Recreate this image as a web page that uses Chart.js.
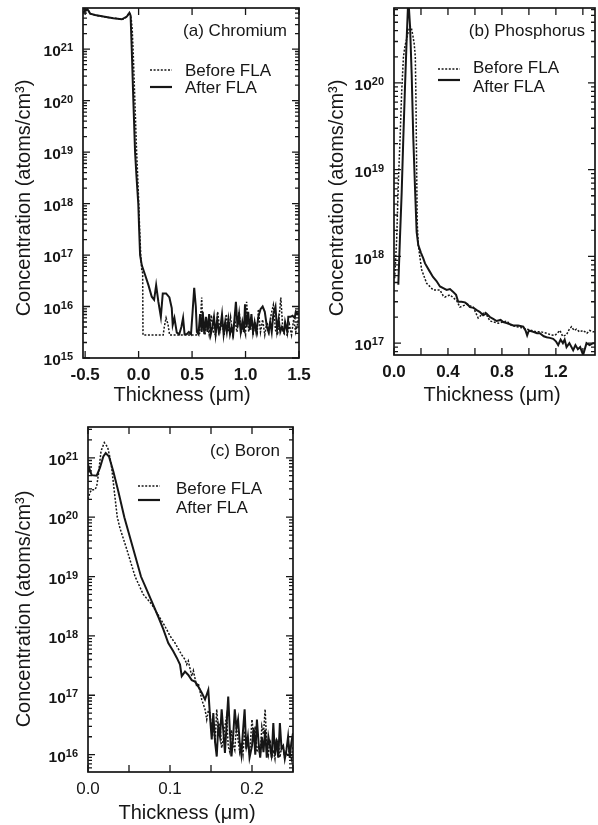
<!DOCTYPE html>
<html>
<head>
<meta charset="utf-8">
<script src="https://cdn.jsdelivr.net/npm/chart.js@4.4.0/dist/chart.umd.min.js"></script>
<style>
  body { margin: 0; background: #fff; width: 598px; height: 825px; overflow: hidden; position: relative; }
  canvas { position: absolute; }
</style>
</head>
<body>
<canvas id="chartA" width="320" height="410" style="left:0;top:0"></canvas>
<canvas id="chartB" width="298" height="410" style="left:300px;top:0"></canvas>
<canvas id="chartC" width="320" height="413" style="left:0;top:412px"></canvas>
<script>
const seriesNames = ['Before FLA', 'After FLA'];
const panelLabels = ['(a) Chromium', '(b) Phosphorus', '(c) Boron'];
const xTitleText = 'Thickness (μm)';
const yTitleText = 'Concentration (atoms/cm³)';

// [thickness (um), concentration (atoms/cm3)]
const crBefore = [
  [-0.516, 5.0e21], [-0.505, 6.2e21], [-0.49, 5.6e21], [-0.475, 5.9e21], [-0.453, 4.9e21], [-0.43, 4.7e21],
  [-0.407, 4.6e21], [-0.37, 4.4e21], [-0.33, 4.3e21], [-0.28, 4.1e21], [-0.236, 4.0e21], [-0.19, 3.9e21],
  [-0.157, 3.8e21], [-0.13, 3.9e21], [-0.11, 4.3e21], [-0.095, 4.8e21], [-0.086, 5.1e21], [-0.078, 4.6e21],
  [-0.07, 4.0e21], [-0.06, 2.5e21], [-0.05, 8e20], [-0.04, 2e20], [-0.03, 5e19], [-0.02, 1.2e19],
  [-0.01, 4e18], [0.0, 1.2e18], [0.01, 3e17], [0.02, 1e17], [0.03, 5e16], [0.038, 4.5e16], [0.041, 2.8e15],
  [0.10, 2.8e15], [0.16, 2.8e15], [0.23, 2.8e15], [0.24, 4.0e15], [0.257, 6.0e15], [0.275, 4.5e15],
  [0.29, 2.8e15], [0.35, 2.8e15], [0.42, 2.8e15], [0.49, 2.8e15], [0.54, 2.8e15], [0.57, 3.0e15],
  [0.58, 6.3e15], [0.59, 1.5e16], [0.60, 4.0e15], [0.62, 2.8e15], [0.64, 5.0e15], [0.66, 2.8e15],
  [0.68, 6.8e15], [0.70, 3.2e15], [0.72, 2.8e15], [0.74, 7.9e15], [0.76, 3.2e15], [0.78, 5.0e15],
  [0.80, 2.8e15], [0.82, 7.1e15], [0.84, 3.2e15], [0.86, 6.3e15], [0.88, 2.8e15], [0.90, 5.6e15],
  [0.92, 3.2e15], [0.94, 7.9e15], [0.96, 3.2e15], [0.98, 4.0e15], [1.00, 2.8e15], [1.01, 1.23e16],
  [1.03, 3.2e15], [1.05, 6.3e15], [1.07, 2.8e15], [1.09, 5.0e15], [1.11, 3.2e15], [1.12, 8.9e15],
  [1.14, 3.2e15], [1.16, 5.6e15], [1.18, 2.8e15], [1.20, 5.0e15], [1.22, 3.2e15], [1.24, 7.1e15],
  [1.26, 1.07e16], [1.28, 3.5e15], [1.30, 2.8e15], [1.33, 1.5e16], [1.35, 3.2e15], [1.37, 2.8e15],
  [1.39, 2.8e15], [1.41, 4.5e15], [1.43, 2.8e15], [1.45, 5.6e15], [1.47, 3.2e15], [1.50, 6.3e15]
];
const crAfter = [
  [-0.516, 5.2e21], [-0.5, 5.7e21], [-0.479, 6.0e21], [-0.453, 4.9e21], [-0.407, 4.6e21], [-0.33, 4.3e21],
  [-0.236, 4.0e21], [-0.157, 3.8e21], [-0.11, 4.3e21], [-0.086, 5.1e21], [-0.075, 4.5e21], [-0.064, 1.0e21],
  [-0.049, 1.0e20], [-0.033, 1.0e19], [-0.019, 3.2e18], [-0.003, 1.0e18], [0.005, 3.2e17], [0.014, 1.0e17],
  [0.030, 6.3e16], [0.061, 4.1e16], [0.092, 2.6e16], [0.123, 1.55e16], [0.145, 1.35e16], [0.164, 2.6e16],
  [0.185, 1.23e16], [0.208, 6.3e15], [0.226, 1.8e16], [0.257, 1.8e16], [0.288, 1.5e16], [0.310, 9.3e15],
  [0.319, 4.4e15], [0.335, 6.0e15], [0.357, 3.1e15], [0.38, 2.9e15], [0.40, 4.0e15], [0.416, 6.0e15],
  [0.43, 2.9e15], [0.45, 2.9e15], [0.47, 3.2e15], [0.49, 2.9e15], [0.505, 7.9e15], [0.52, 2.3e16],
  [0.535, 1.0e16], [0.545, 3.2e15], [0.56, 2.9e15], [0.575, 7.1e15], [0.59, 3.2e15], [0.60, 7.9e15],
  [0.615, 2.9e15], [0.63, 6.3e15], [0.645, 3.2e15], [0.66, 7.1e15], [0.675, 2.9e15], [0.69, 4.0e15],
  [0.705, 6.3e15], [0.72, 2.9e15], [0.735, 5.6e15], [0.75, 3.2e15], [0.765, 4.0e15], [0.78, 7.1e15],
  [0.795, 2.9e15], [0.81, 5.0e15], [0.825, 3.2e15], [0.84, 5.6e15], [0.855, 2.9e15], [0.87, 4.0e15],
  [0.885, 2.9e15], [0.91, 1.23e16], [0.925, 4.0e15], [0.94, 7.1e15], [0.955, 3.2e15], [0.97, 5.0e15],
  [0.985, 3.2e15], [0.995, 1.1e16], [1.01, 4.0e15], [1.025, 7.9e15], [1.04, 3.5e15], [1.055, 7.1e15],
  [1.07, 3.2e15], [1.085, 5.0e15], [1.10, 3.2e15], [1.12, 6.3e15], [1.14, 8.9e15], [1.16, 1.0e16],
  [1.18, 7.9e15], [1.20, 4.0e15], [1.215, 3.2e15], [1.23, 5.0e15], [1.245, 3.2e15], [1.26, 7.1e15],
  [1.28, 1.0e16], [1.295, 3.5e15], [1.31, 5.6e15], [1.325, 3.2e15], [1.34, 4.0e15], [1.36, 3.2e15],
  [1.37, 5.0e15], [1.39, 3.2e15], [1.40, 6.3e15], [1.42, 6.3e15], [1.44, 6.6e15], [1.46, 6.0e15],
  [1.47, 7.9e15], [1.49, 7.1e15], [1.50, 7.6e15]
];

const pBefore = [
  [0.005, 5.6e17], [0.02, 1.6e18], [0.032, 7.0e18], [0.045, 2.3e19], [0.057, 8.0e19], [0.07, 2.0e20],
  [0.082, 2.7e20], [0.094, 3.2e20], [0.106, 3.9e20], [0.119, 4.5e20], [0.13, 4.2e20], [0.14, 3.5e20],
  [0.15, 2.8e20], [0.158, 2.0e20], [0.163, 6.0e19], [0.168, 1.0e19], [0.172, 2.5e18], [0.18, 1.35e18],
  [0.205, 7.0e17], [0.242, 4.9e17], [0.291, 4.1e17], [0.341, 4.1e17], [0.365, 3.5e17], [0.378, 3.4e17],
  [0.415, 3.6e17], [0.464, 3.1e17], [0.489, 2.6e17], [0.539, 2.8e17], [0.587, 2.6e17], [0.624, 1.95e17],
  [0.674, 2.3e17], [0.711, 1.8e17], [0.773, 1.7e17], [0.835, 1.8e17], [0.87, 1.6e17], [0.909, 1.55e17],
  [0.95, 1.5e17], [0.983, 1.45e17], [1.02, 1.4e17], [1.057, 1.35e17], [1.09, 1.35e17], [1.131, 1.3e17],
  [1.16, 1.25e17], [1.193, 1.23e17], [1.21, 1.3e17], [1.23, 1.4e17], [1.25, 1.2e17], [1.279, 1.25e17],
  [1.30, 1.45e17], [1.316, 1.55e17], [1.335, 1.4e17], [1.353, 1.45e17], [1.375, 1.35e17], [1.402, 1.4e17],
  [1.43, 1.3e17], [1.45, 1.4e17], [1.476, 1.35e17], [1.49, 1.35e17]
];
const pAfter = [
  [0.032, 4.7e17], [0.044, 1.6e18], [0.057, 5.5e18], [0.069, 2.3e19], [0.081, 8.5e19], [0.094, 3.2e20],
  [0.106, 9.5e20], [0.119, 4.5e20], [0.131, 1.26e20], [0.143, 2.3e19], [0.156, 6.0e18], [0.168, 1.9e18],
  [0.18, 1.35e18], [0.20, 1.1e18], [0.217, 9.5e17], [0.23, 8.3e17], [0.26, 6.9e17], [0.289, 5.8e17],
  [0.315, 5.2e17], [0.341, 4.5e17], [0.365, 4.3e17], [0.39, 4.1e17], [0.415, 4.2e17], [0.439, 3.9e17],
  [0.46, 3.6e17], [0.476, 3.0e17], [0.50, 3.0e17], [0.526, 2.95e17], [0.545, 2.8e17], [0.563, 2.6e17],
  [0.59, 2.55e17], [0.613, 2.4e17], [0.635, 2.3e17], [0.661, 2.1e17], [0.685, 2.2e17], [0.711, 2.0e17],
  [0.735, 1.9e17], [0.761, 1.8e17], [0.79, 1.85e17], [0.81, 1.75e17], [0.835, 1.7e17], [0.86, 1.65e17],
  [0.884, 1.6e17], [0.92, 1.6e17], [0.958, 1.55e17], [0.975, 1.4e17], [0.987, 1.23e17], [1.0, 1.4e17],
  [1.032, 1.35e17], [1.06, 1.3e17], [1.081, 1.3e17], [1.11, 1.2e17], [1.131, 1.17e17], [1.155, 1.15e17],
  [1.18, 1.12e17], [1.20, 1.05e17], [1.217, 9.5e16], [1.235, 1.1e17], [1.252, 1.0e17], [1.265, 1.1e17],
  [1.279, 9.0e16], [1.30, 1.0e17], [1.328, 8.3e16], [1.345, 9.5e16], [1.363, 8.5e16], [1.38, 9.0e16],
  [1.402, 7.3e16], [1.427, 1.0e17], [1.45, 9.5e16], [1.476, 1.0e17], [1.49, 1.0e17]
];

const bBefore = [
  [0.0, 2.0e20], [0.0024, 2.6e20], [0.0045, 2.9e20], [0.0085, 2.9e20], [0.0106, 3.3e20], [0.0126, 5.1e20],
  [0.0159, 1.3e21], [0.0199, 1.8e21], [0.024, 1.5e21], [0.0268, 1.0e21], [0.0289, 6.8e20], [0.0321, 2.7e20],
  [0.0357, 1.0e20], [0.039, 6.5e19], [0.0472, 2.9e19], [0.0574, 1.0e19], [0.0674, 5.0e18], [0.0777, 3.4e18],
  [0.0878, 2.0e18], [0.0939, 1.45e18], [0.1, 1.0e18], [0.1061, 7.6e17], [0.1143, 4.8e17], [0.1183, 4.0e17],
  [0.1204, 3.3e17], [0.1223, 3.8e17], [0.1265, 2.1e17], [0.1285, 2.6e17], [0.1326, 1.4e17], [0.1345, 1.6e17],
  [0.1387, 8.5e16], [0.1427, 5.8e16], [0.1448, 3.9e16], [0.1467, 5.5e16], [0.1488, 5.0e16], [0.1509, 2.5e16],
  [0.1528, 3.0e16], [0.155, 1.6e16], [0.157, 5.8e16], [0.159, 2.2e16], [0.161, 3.4e16], [0.163, 1.3e16],
  [0.165, 1.8e16], [0.167, 3.0e16], [0.169, 4.4e16], [0.171, 1.4e16], [0.173, 1.1e16], [0.175, 2.6e16],
  [0.177, 1.5e16], [0.179, 1.2e16], [0.181, 3.0e16], [0.183, 1.8e16], [0.185, 1.1e16], [0.187, 1.6e16],
  [0.189, 1.0e16], [0.191, 2.5e16], [0.193, 1.3e16], [0.195, 1.8e16], [0.197, 1.0e16], [0.200, 3.9e16],
  [0.202, 2.0e16], [0.204, 3.0e16], [0.206, 1.1e16], [0.208, 1.4e16], [0.210, 9.0e15], [0.212, 3.0e16],
  [0.214, 2.2e16], [0.216, 5.8e16], [0.218, 1.5e16], [0.220, 1.0e16], [0.222, 1.8e16], [0.224, 9.0e15],
  [0.226, 1.2e16], [0.228, 8.5e15], [0.230, 1.8e16], [0.232, 1.6e16], [0.234, 9.0e15], [0.236, 1.3e16],
  [0.238, 1.4e16], [0.240, 8.5e15], [0.242, 1.1e16], [0.244, 9.3e15], [0.246, 1.3e16], [0.248, 8.5e15],
  [0.250, 1.4e16]
];
const bAfter = [
  [0.0, 5.9e20], [0.001, 7.0e20], [0.0045, 5.1e20], [0.0106, 5.0e20], [0.0146, 6.8e20], [0.0187, 1.05e21],
  [0.0216, 1.2e21], [0.0256, 1.05e21], [0.0309, 5.9e20], [0.037, 2.7e20], [0.0443, 1.0e20], [0.0491, 5.8e19],
  [0.0552, 2.9e19], [0.0646, 1.0e19], [0.0735, 5.2e18], [0.0777, 3.8e18], [0.0857, 2.1e18], [0.0918, 1.3e18],
  [0.0979, 7.6e17], [0.104, 5.5e17], [0.1082, 4.3e17], [0.1122, 3.3e17], [0.1143, 2.1e17], [0.1183, 2.5e17],
  [0.1223, 2.2e17], [0.1265, 1.8e17], [0.1305, 1.7e17], [0.1345, 1.4e17], [0.1387, 1.1e17], [0.1427, 8.5e16],
  [0.1467, 1.23e17], [0.149, 4.0e16], [0.1509, 1.8e16], [0.1528, 5.0e16], [0.155, 1.6e16], [0.157, 9.3e15],
  [0.1589, 3.0e16], [0.161, 2.0e16], [0.163, 5.8e16], [0.165, 2.5e16], [0.167, 1.07e16], [0.169, 3.2e16],
  [0.171, 9.5e16], [0.173, 2.5e16], [0.175, 9.3e15], [0.177, 2.0e16], [0.179, 5.8e16], [0.181, 2.8e16],
  [0.183, 3.9e16], [0.185, 1.6e16], [0.187, 1.0e16], [0.189, 2.5e16], [0.191, 5.8e16], [0.193, 1.26e16],
  [0.195, 2.0e16], [0.197, 8.9e15], [0.200, 1.4e16], [0.202, 2.8e16], [0.204, 1.0e16], [0.206, 3.9e16],
  [0.208, 1.6e16], [0.210, 8.9e15], [0.212, 2.0e16], [0.214, 1.1e16], [0.216, 2.6e16], [0.218, 8.9e15],
  [0.220, 2.0e16], [0.222, 1.4e16], [0.224, 8.9e15], [0.226, 3.4e16], [0.228, 1.0e16], [0.230, 1.8e16],
  [0.232, 8.9e15], [0.234, 3.4e16], [0.236, 1.26e16], [0.238, 1.4e16], [0.240, 8.5e15], [0.242, 1.2e16],
  [0.244, 2.0e16], [0.246, 8.9e15], [0.248, 1.6e16], [0.250, 2.3e16]
];

const ink = '#161616';
const fam = '"Liberation Sans", Arial, sans-serif';
const dots = [2, 1.6];

const pts = arr => arr.map(([x, y]) => ({ x, y }));

// minor ticks 1..9 per decade, majors at powers of ten
function logTicks(scale) {
  const ticks = [];
  const lo = Math.floor(Math.log10(scale.min));
  const hi = Math.ceil(Math.log10(scale.max));
  for (let e = lo; e <= hi; e++) {
    for (let m = 1; m < 10; m++) {
      const v = m * Math.pow(10, e);
      if (v >= scale.min * 0.999 && v <= scale.max * 1.001) ticks.push({ value: v, major: m === 1 });
    }
  }
  scale.ticks = ticks;
}

const decor = {
  id: 'decor',
  afterDraw(chart, args, o) {
    const ctx = chart.ctx;
    const a = chart.chartArea;
    const xs = chart.scales.x;
    const ys = chart.scales.y;
    ctx.save();
    ctx.strokeStyle = ink;
    ctx.fillStyle = ink;
    ctx.lineWidth = 1.7;
    ctx.strokeRect(a.left, a.top, a.right - a.left, a.bottom - a.top);

    ctx.lineWidth = 1.3;
    ctx.beginPath();
    xs.ticks.forEach(t => {
      const px = xs.getPixelForValue(t.value);
      ctx.moveTo(px, a.bottom); ctx.lineTo(px, a.bottom - 7);
      ctx.moveTo(px, a.top); ctx.lineTo(px, a.top + 7);
    });
    ys.ticks.forEach(t => {
      const py = ys.getPixelForValue(t.value);
      const len = t.major ? 7 : 4;
      ctx.moveTo(a.left, py); ctx.lineTo(a.left + len, py);
      ctx.moveTo(a.right, py); ctx.lineTo(a.right - len, py);
    });
    ctx.stroke();

    ctx.textBaseline = 'middle';
    ys.ticks.filter(t => t.major).forEach(t => {
      const py = ys.getPixelForValue(t.value);
      const e = String(Math.round(Math.log10(t.value)));
      ctx.font = 'bold 11px ' + fam;
      const w = ctx.measureText(e).width;
      const r = a.left - 10;
      ctx.textAlign = 'left';
      ctx.fillText(e, r - w, py - 1);
      ctx.font = 'bold 15.5px ' + fam;
      ctx.textAlign = 'right';
      ctx.fillText('10', r - w, py + 3);
    });

    ctx.font = '20px ' + fam;
    ctx.textAlign = 'center';
    ctx.fillText(xTitleText, o.xTitle[0], o.xTitle[1]);
    ctx.save();
    ctx.translate(o.yTitle[0], o.yTitle[1]);
    ctx.rotate(-Math.PI / 2);
    ctx.fillText(yTitleText, 0, 0);
    ctx.restore();

    ctx.font = '17px ' + fam;
    ctx.textAlign = 'right';
    ctx.fillText(o.label, o.labelPos[0], o.labelPos[1]);

    ctx.textAlign = 'left';
    ctx.fillText(seriesNames[0], o.legendTextX, o.legendTextY[0]);
    ctx.fillText(seriesNames[1], o.legendTextX, o.legendTextY[1]);
    ctx.beginPath();
    ctx.lineWidth = 1.5;
    ctx.setLineDash(dots);
    ctx.moveTo(o.legendLine[0], o.legendY[0]); ctx.lineTo(o.legendLine[1], o.legendY[0]);
    ctx.stroke();
    ctx.beginPath();
    ctx.lineWidth = 2.2;
    ctx.setLineDash([]);
    ctx.moveTo(o.legendLine[0], o.legendY[1]); ctx.lineTo(o.legendLine[1], o.legendY[1]);
    ctx.stroke();
    ctx.restore();
  }
};

function makeChart(id, cfg) {
  const labelled = v => Math.abs(v / cfg.labelStep - Math.round(v / cfg.labelStep)) < 1e-6;
  return new Chart(document.getElementById(id), {
    type: 'line',
    data: {
      datasets: [
        { label: seriesNames[0], data: pts(cfg.before), borderColor: ink, borderWidth: 1.5, borderDash: dots, pointRadius: 0, tension: 0 },
        { label: seriesNames[1], data: pts(cfg.after), borderColor: ink, borderWidth: 2, pointRadius: 0, tension: 0 }
      ]
    },
    options: {
      responsive: false,
      animation: false,
      devicePixelRatio: 1,
      layout: { padding: cfg.pad },
      plugins: { legend: { display: false }, tooltip: { enabled: false }, decor: cfg.decor },
      scales: {
        x: {
          type: 'linear',
          min: cfg.xMin,
          max: cfg.xMax,
          grid: { display: false, drawTicks: false },
          border: { display: false },
          afterFit: s => { s.height = cfg.xh; },
          ticks: {
            stepSize: cfg.xStep,
            includeBounds: false,
            autoSkip: false,
            maxRotation: 0,
            padding: 7,
            color: ink,
            font: { family: fam, size: 17, weight: cfg.xBold ? 'bold' : 'normal' },
            callback: v => labelled(v) ? v.toFixed(1) : ''
          }
        },
        y: {
          type: 'logarithmic',
          min: cfg.yMin,
          max: cfg.yMax,
          grid: { display: false, drawTicks: false },
          border: { display: false },
          ticks: { display: false },
          afterBuildTicks: logTicks,
          afterFit: s => { s.width = cfg.yw; }
        }
      }
    },
    plugins: [decor]
  });
}

makeChart('chartA', {
  before: crBefore, after: crAfter,
  xMin: -0.52, xMax: 1.5, xStep: 0.5, labelStep: 0.5, xBold: true,
  yMin: 1e15, yMax: 6.3e21,
  pad: { left: 0, top: 8, right: 21, bottom: 0 }, yw: 83, xh: 52,
  decor: {
    label: panelLabels[0], labelPos: [287, 31],
    legendLine: [150, 172], legendY: [70, 87], legendTextX: 185, legendTextY: [71, 88],
    xTitle: [182, 395], yTitle: [24, 198]
  }
});

makeChart('chartB', {
  before: pBefore, after: pAfter,
  xMin: 0, xMax: 1.49, xStep: 0.2, labelStep: 0.4, xBold: true,
  yMin: 7.3e16, yMax: 7.3e20,
  pad: { left: 0, top: 8, right: 3, bottom: 0 }, yw: 94, xh: 55,
  decor: {
    label: panelLabels[1], labelPos: [285, 31],
    legendLine: [138, 160], legendY: [69, 80], legendTextX: 173, legendTextY: [68, 87],
    xTitle: [192, 395], yTitle: [37, 198]
  }
});

makeChart('chartC', {
  before: bBefore, after: bAfter,
  xMin: 0, xMax: 0.25, xStep: 0.05, labelStep: 0.1, xBold: false,
  yMin: 5.1e15, yMax: 3.3e21,
  pad: { left: 0, top: 15, right: 27, bottom: 0 }, yw: 88, xh: 53,
  decor: {
    label: panelLabels[2], labelPos: [280, 39],
    legendLine: [138, 160], legendY: [74, 88], legendTextX: 176, legendTextY: [77, 96],
    xTitle: [187, 401], yTitle: [24, 197]
  }
});
</script>
</body>
</html>
